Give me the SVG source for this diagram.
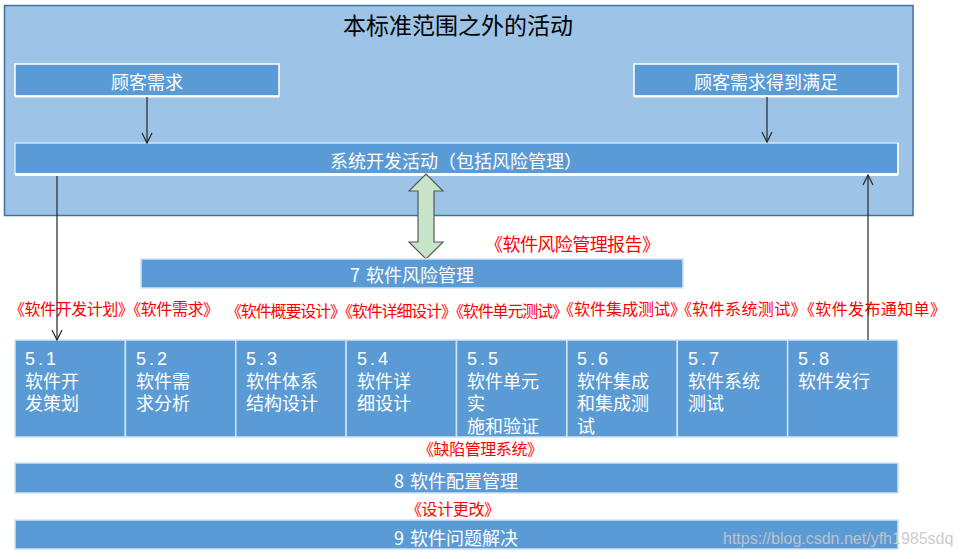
<svg xmlns="http://www.w3.org/2000/svg" width="960" height="559" viewBox="0 0 960 559">
<defs>
<style>
text{font-family:"Noto Sans CJK SC","Liberation Sans",sans-serif;}
.box{fill:#5B9BD5;stroke:#FFFFFF;stroke-width:1.5;}
.cell{fill:#5B9BD5;stroke:#D2E3F3;stroke-width:1.5;}
.wt{fill:#FFFFFF;font-size:18px;font-family:"Liberation Sans","Noto Sans CJK SC",sans-serif;}
.wtc{fill:#FFFFFF;font-size:18px;dominant-baseline:central;text-anchor:middle;}
.red{fill:#FF0000;font-size:16px;dominant-baseline:central;}
.conn{stroke:#262626;stroke-width:1.2;fill:none;}
.num{letter-spacing:3px;}
</style>
<marker id="arr" viewBox="0 0 12 12" refX="11" refY="6" markerWidth="12" markerHeight="12" markerUnits="userSpaceOnUse" orient="auto">
<path d="M1,1 L11,6 L1,11" fill="none" stroke="#262626" stroke-width="1.2"/>
</marker>
</defs>
<rect width="960" height="559" fill="#FFFFFF"/>

<g id="scope">
<rect x="4.5" y="5.5" width="908.5" height="210" fill="#9DC3E6" stroke="#41719C" stroke-width="1.5"/>
<text x="458" y="24" font-size="23" text-anchor="middle" dominant-baseline="central" fill="#000000">本标准范围之外的活动</text>
</g>

<g id="customer-req">
<rect class="box" x="15" y="64" width="264" height="32"/>
<line x1="15" y1="96.5" x2="279" y2="96.5" stroke="#FFFFFF" stroke-width="2"/>
<text class="wtc" x="147" y="81">顾客需求</text>
</g>

<g id="customer-satisfied">
<rect class="box" x="634" y="64" width="264" height="32"/>
<line x1="634" y1="96.5" x2="898" y2="96.5" stroke="#FFFFFF" stroke-width="2"/>
<text class="wtc" x="766" y="81">顾客需求得到满足</text>
</g>

<g id="system-dev">
<rect class="box" x="15" y="143" width="883" height="31" style="stroke:#D2E3F3"/>
<line x1="15" y1="174.5" x2="898" y2="174.5" stroke="#FFFFFF" stroke-width="3"/>
<line x1="898" y1="143" x2="898" y2="175" stroke="#FFFFFF" stroke-width="1.5"/>
<text class="wtc" x="456" y="160">系统开发活动（包括风险管理）</text>
</g>

<g id="risk-arrow">
<polygon points="426,174 443,191 434,191 434,242 443,242 426,259 409,242 418,242 418,191 409,191" fill="#C8E4C9" stroke="#595959" stroke-width="1.2" stroke-linejoin="miter"/>
</g>

<g id="risk-mgmt">
<rect class="cell" x="141" y="259" width="542" height="29"/>
<text class="wtc" x="412" y="274">7<tspan dx="6">软件风险管理</tspan></text>
</g>

<g id="labels">
<text class="red" x="485" y="243" style="font-size:18px" textLength="175" lengthAdjust="spacing">《软件风险管理报告》</text>
<text class="red" x="9" y="308" textLength="210" lengthAdjust="spacing">《软件开发计划》《软件需求》</text>
<text class="red" x="226" y="310" textLength="342" lengthAdjust="spacing">《软件概要设计》《软件详细设计》《软件单元测试》</text>
<text class="red" x="558" y="308" textLength="128" lengthAdjust="spacing">《软件集成测试》</text>
<text class="red" x="676" y="308" textLength="270" lengthAdjust="spacing">《软件系统测试》《软件发布通知单》</text>
<text class="red" x="418" y="448" textLength="125" lengthAdjust="spacing">《缺陷管理系统》</text>
<text class="red" x="406" y="508" textLength="94" lengthAdjust="spacing">《设计更改》</text>
</g>

<g id="p51">
<rect class="cell" x="15" y="340" width="110.4" height="97"/>
<text class="wt" x="25" y="365"><tspan class="num">5.1</tspan><tspan x="25" dy="22.5">软件开</tspan><tspan x="25" dy="22.5">发策划</tspan></text>
</g>
<g id="p52">
<rect class="cell" x="125.4" y="340" width="110.4" height="97"/>
<text class="wt" x="136" y="365"><tspan class="num">5.2</tspan><tspan x="136" dy="22.5">软件需</tspan><tspan x="136" dy="22.5">求分析</tspan></text>
</g>
<g id="p53">
<rect class="cell" x="235.8" y="340" width="110.4" height="97"/>
<text class="wt" x="246" y="365"><tspan class="num">5.3</tspan><tspan x="246" dy="22.5">软件体系</tspan><tspan x="246" dy="22.5">结构设计</tspan></text>
</g>
<g id="p54">
<rect class="cell" x="346.1" y="340" width="110.4" height="97"/>
<text class="wt" x="357" y="365"><tspan class="num">5.4</tspan><tspan x="357" dy="22.5">软件详</tspan><tspan x="357" dy="22.5">细设计</tspan></text>
</g>
<g id="p55">
<rect class="cell" x="456.5" y="340" width="110.4" height="97"/>
<text class="wt" x="467" y="365"><tspan class="num">5.5</tspan><tspan x="467" dy="22.5">软件单元</tspan><tspan x="467" dy="22.5">实</tspan><tspan x="467" dy="22.5">施和验证</tspan></text>
</g>
<g id="p56">
<rect class="cell" x="566.9" y="340" width="110.4" height="97"/>
<text class="wt" x="577" y="365"><tspan class="num">5.6</tspan><tspan x="577" dy="22.5">软件集成</tspan><tspan x="577" dy="22.5">和集成测</tspan><tspan x="577" dy="22.5">试</tspan></text>
</g>
<g id="p57">
<rect class="cell" x="677.3" y="340" width="110.4" height="97"/>
<text class="wt" x="688" y="365"><tspan class="num">5.7</tspan><tspan x="688" dy="22.5">软件系统</tspan><tspan x="688" dy="22.5">测试</tspan></text>
</g>
<g id="p58">
<rect class="cell" x="787.6" y="340" width="110.4" height="97"/>
<text class="wt" x="798" y="365"><tspan class="num">5.8</tspan><tspan x="798" dy="22.5">软件发行</tspan></text>
</g>

<g id="config-mgmt">
<rect class="cell" x="15" y="463" width="883" height="30"/>
<text class="wtc" x="456" y="480">8<tspan dx="6">软件配置管理</tspan></text>
</g>

<g id="problem-resolution">
<rect class="cell" x="15" y="520" width="883" height="29"/>
<text class="wtc" x="456" y="537">9<tspan dx="6">软件问题解决</tspan></text>
</g>

<g id="connectors">
<line class="conn" x1="147" y1="97" x2="147" y2="143" marker-end="url(#arr)"/>
<line class="conn" x1="767" y1="97" x2="767" y2="142" marker-end="url(#arr)"/>
<line class="conn" x1="57" y1="176" x2="57" y2="340" marker-end="url(#arr)"/>
<line class="conn" x1="868" y1="340" x2="868" y2="175" marker-end="url(#arr)"/>
</g>

<text x="723" y="538" font-size="16" style="font-family:'Liberation Sans',Arial,sans-serif" dominant-baseline="central" fill="#C8C8C8" opacity="0.9">https://blog.csdn.net/yfh1985sdq</text>
</svg>
